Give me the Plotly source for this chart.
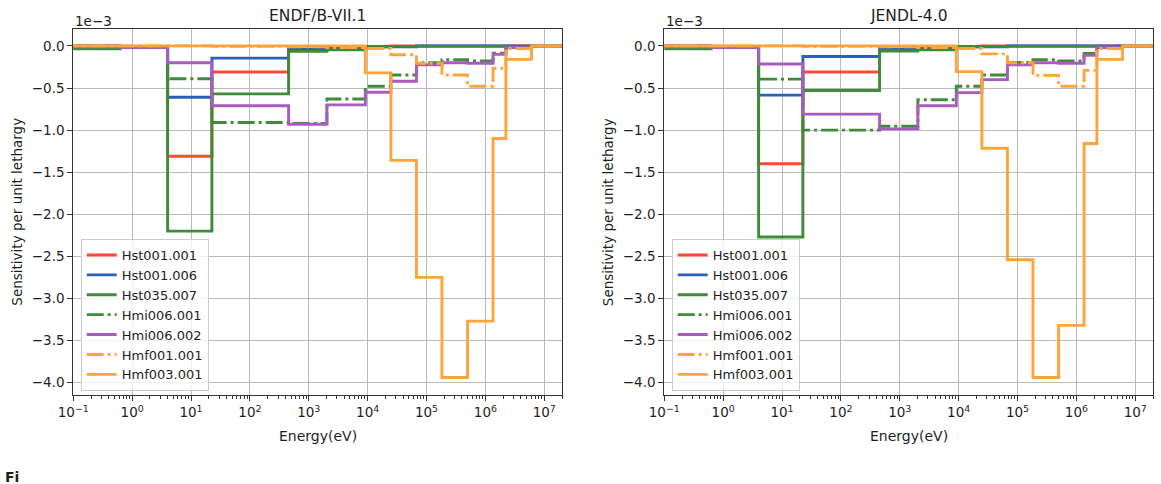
import math
import plotly.graph_objects as go

# ---------------- data ----------------
energy_bounds = [1e-5, 0.625, 4.0, 22.6, 454.0, 2030.0, 9120.0, 24800.0, 67400.0,
                 183000.0, 498000.0, 1.35e6, 2.23e6, 6.07e6, 2.0e7]

series_names = ["Hst001.001", "Hst001.006", "Hst035.007", "Hmi006.001",
                "Hmi006.002", "Hmf001.001", "Hmf003.001"]

# ENDF/B-VII.1 sensitivities (x 1e-3), one value per energy group
endf_hst001_001 = [0.0, -0.01, -1.31, -0.31, -0.04, -0.02, -0.005, 0.0, 0.0, 0.0, 0.0, 0.0, 0.0, 0.0]
endf_hst001_006 = [0.0, -0.01, -0.61, -0.145, -0.04, -0.02, -0.01, -0.01, 0.0, 0.0, 0.0, 0.0, 0.0, 0.0]
endf_hst035_007 = [-0.035, -0.02, -2.20, -0.57, -0.065, -0.045, -0.01, -0.005, -0.005, -0.005, -0.005, -0.005, -0.02, 0.0]
endf_hmi006_001 = [-0.005, -0.01, -0.39, -0.91, -0.92, -0.63, -0.48, -0.345, -0.20, -0.165, -0.18, -0.085, -0.01, 0.0]
endf_hmi006_002 = [-0.01, -0.02, -0.20, -0.71, -0.93, -0.70, -0.55, -0.42, -0.225, -0.20, -0.205, -0.10, -0.02, 0.0]
endf_hmf001_001 = [0.0, 0.0, 0.0, -0.005, -0.01, -0.02, -0.03, -0.105, -0.205, -0.345, -0.48, -0.265, -0.03, 0.0]
endf_hmf003_001 = [0.0, 0.0, 0.0, 0.0, 0.0, 0.0, -0.32, -1.36, -2.75, -3.94, -3.27, -1.10, -0.16, 0.0]

# JENDL-4.0 sensitivities (x 1e-3)
jendl_hst001_001 = [0.0, -0.01, -1.40, -0.31, -0.04, -0.02, -0.005, 0.0, 0.0, 0.0, 0.0, 0.0, 0.0, 0.0]
jendl_hst001_006 = [0.0, -0.01, -0.585, -0.125, -0.04, -0.02, -0.01, -0.01, 0.0, 0.0, 0.0, 0.0, 0.0, 0.0]
jendl_hst035_007 = [-0.035, -0.02, -2.27, -0.53, -0.06, -0.045, -0.01, -0.005, -0.005, -0.005, -0.005, -0.005, -0.02, 0.0]
jendl_hmi006_001 = [-0.005, -0.01, -0.395, -1.00, -0.955, -0.64, -0.48, -0.345, -0.195, -0.165, -0.18, -0.09, -0.01, 0.0]
jendl_hmi006_002 = [-0.01, -0.02, -0.215, -0.81, -0.985, -0.71, -0.555, -0.40, -0.225, -0.20, -0.205, -0.11, -0.02, 0.0]
jendl_hmf001_001 = [0.0, 0.0, 0.0, -0.005, -0.01, -0.02, -0.03, -0.095, -0.20, -0.35, -0.48, -0.29, -0.03, 0.0]
jendl_hmf003_001 = [0.0, 0.0, 0.0, 0.0, 0.0, 0.0, -0.305, -1.215, -2.54, -3.94, -3.32, -1.16, -0.16, 0.0]

panel_titles = ["ENDF/B-VII.1", "JENDL-4.0"]
x_tick_vals = [0.1, 1, 10, 100, 1e3, 1e4, 1e5, 1e6, 1e7]
x_tick_text = ["10<sup>\u22121</sup>", "10<sup>0</sup>", "10<sup>1</sup>", "10<sup>2</sup>",
               "10<sup>3</sup>", "10<sup>4</sup>", "10<sup>5</sup>", "10<sup>6</sup>", "10<sup>7</sup>"]
y_tick_vals = [0.0, -0.5, -1.0, -1.5, -2.0, -2.5, -3.0, -3.5, -4.0]

# ---------------- styles ----------------
colors = ["#fb4a36", "#2c5fb8", "#3e8c3a", "#3e8c3a", "#a95cbf", "#ffa43a", "#ffa43a"]
dd = "17px,4px,3px,4px"
dashes = ["solid", "solid", "solid", dd, "solid", dd, "solid"]
LW = 2.9

W, H = 1161, 484
left_px = [(73.3, 562.0), (664.3, 1153.0)]
top_px, bot_px = 29.3, 395.0

def px_x(p):
    return p / W

def px_y(p):
    return 1 - p / H

endf = [endf_hst001_001, endf_hst001_006, endf_hst035_007, endf_hmi006_001,
        endf_hmi006_002, endf_hmf001_001, endf_hmf003_001]
jendl = [jendl_hst001_001, jendl_hst001_006, jendl_hst035_007, jendl_hmi006_001,
         jendl_hmi006_002, jendl_hmf001_001, jendl_hmf003_001]

fig = go.Figure()
for pi, panel in enumerate([endf, jendl]):
    xa = "x" if pi == 0 else "x2"
    ya = "y" if pi == 0 else "y2"
    lg = "legend" if pi == 0 else "legend2"
    for si, vals in enumerate(panel):
        fig.add_trace(go.Scatter(
            x=energy_bounds, y=list(vals) + [vals[-1]],
            mode="lines", line=dict(shape="hv", color=colors[si], width=LW, dash=dashes[si]),
            name=series_names[si], xaxis=xa, yaxis=ya, legend=lg,
        ))

font_main = "DejaVu Sans, sans-serif"
axis_common = dict(showline=True, mirror=True, linecolor="#333333", linewidth=1,
                   showgrid=True, gridcolor="#b9b9b9", gridwidth=1.2,
                   ticks="outside", ticklen=5, tickcolor="#333333", automargin=False,
                   tickfont=dict(family=font_main, size=13.5, color="#1e1e1e"), zeroline=False)

xr = [math.log10(0.1), math.log10(2e7)]
yr = [-4.1475, 0.1975]
ydom = [px_y(bot_px), px_y(top_px)]

for pi in range(2):
    xd = [px_x(left_px[pi][0]), px_x(left_px[pi][1])]
    xkey = "xaxis" if pi == 0 else "xaxis2"
    ykey = "yaxis" if pi == 0 else "yaxis2"
    fig.update_layout(**{
        xkey: dict(type="log", range=xr, domain=xd, anchor="y" if pi == 0 else "y2",
                   tickmode="array", tickvals=x_tick_vals, ticktext=x_tick_text,
                   minor=dict(ticks="outside", ticklen=2.5, tickcolor="#333333",
                              dtick="D1", showgrid=False),
                   **axis_common),
        ykey: dict(range=yr, domain=ydom, anchor="x" if pi == 0 else "x2",
                   tickmode="array", tickvals=y_tick_vals, tickformat=".1f",
                   **axis_common),
    })

annotations = []
for pi in range(2):
    cx = (left_px[pi][0] + left_px[pi][1]) / 2
    annotations.append(dict(text=panel_titles[pi], x=px_x(cx), y=px_y(16), xref="paper", yref="paper",
                            showarrow=False, xanchor="center", yanchor="middle",
                            font=dict(family=font_main, size=15.5, color="#1e1e1e")))
    annotations.append(dict(text="1e\u22123", x=px_x(left_px[pi][0]), y=px_y(20.5), xref="paper", yref="paper",
                            showarrow=False, xanchor="left", yanchor="middle",
                            font=dict(family=font_main, size=13.5, color="#1e1e1e")))
    annotations.append(dict(text="Energy(eV)", x=px_x(cx), y=px_y(436), xref="paper", yref="paper",
                            showarrow=False, xanchor="center", yanchor="middle",
                            font=dict(family=font_main, size=14, color="#1e1e1e")))
    annotations.append(dict(text="Sensitivity per unit lethargy", x=px_x(17.5 if pi == 0 else 608),
                            y=px_y((top_px + bot_px) / 2), xref="paper", yref="paper",
                            showarrow=False, xanchor="center", yanchor="middle", textangle=-90,
                            font=dict(family=font_main, size=13.5, color="#1e1e1e")))
annotations.append(dict(text="<b>Fi</b>", x=px_x(3), y=px_y(467), xref="paper", yref="paper",
                        showarrow=False, xanchor="left", yanchor="top",
                        font=dict(family=font_main, size=14, color="#1e1e1e")))

legend_common = dict(bgcolor="rgba(255,255,255,0.8)", bordercolor="#cccccc", borderwidth=1,
                     font=dict(family=font_main, size=13, color="#1e1e1e"),
                     xanchor="left", yanchor="top", tracegroupgap=0, itemwidth=30,
                     xref="paper", yref="paper")

fig.update_layout(
    width=W, height=H, margin=dict(l=0, r=0, t=0, b=0, pad=0, autoexpand=False),
    paper_bgcolor="white", plot_bgcolor="white",
    showlegend=True,
    legend=dict(x=px_x(80.7), y=px_y(239), **legend_common),
    legend2=dict(x=px_x(671.7), y=px_y(239), **legend_common),
    annotations=annotations,
)

fig.write_html("out.html")
